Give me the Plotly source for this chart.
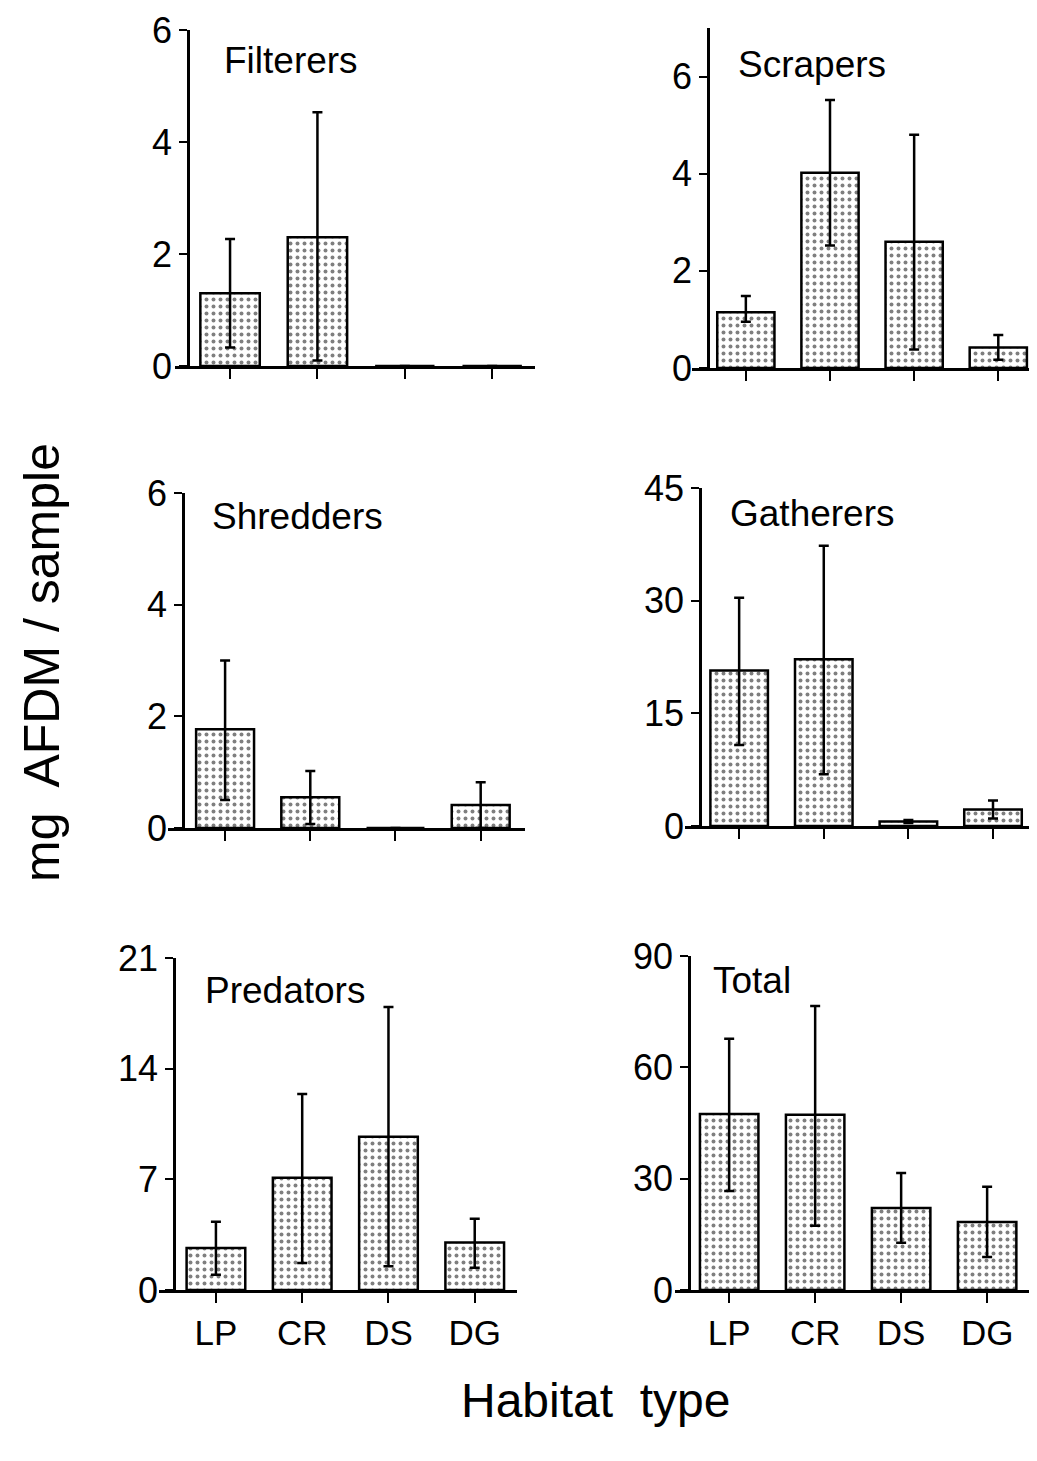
import plotly.graph_objects as go

W, H = 1037, 1461
OFF = 8  # the page body adds an 8px margin around the figure

habitats = ["LP", "CR", "DS", "DG"]

filterers = [1.3, 2.3, 0.0, 0.0]
filterers_plus = [0.97, 2.23, 0.0, 0.0]
filterers_minus = [0.97, 2.2, 0.0, 0.0]

scrapers = [1.15, 4.02, 2.6, 0.42]
scrapers_plus = [0.33, 1.5, 2.2, 0.26]
scrapers_minus = [0.2, 1.5, 2.22, 0.25]

shredders = [1.77, 0.55, 0.0, 0.41]
shredders_plus = [1.23, 0.47, 0.0, 0.41]
shredders_minus = [1.27, 0.48, 0.0, 0.41]

gatherers = [20.7, 22.2, 0.6, 2.2]
gatherers_plus = [9.7, 15.1, 0.2, 1.2]
gatherers_minus = [9.9, 15.3, 0.2, 1.2]

predators = [2.66, 7.1, 9.7, 3.0]
predators_plus = [1.65, 5.3, 8.2, 1.5]
predators_minus = [1.7, 5.4, 8.2, 1.6]

total = [47.4, 47.2, 22.1, 18.3]
total_plus = [20.3, 29.3, 9.4, 9.5]
total_minus = [20.7, 29.9, 9.4, 9.4]

panel_titles = ["Filterers", "Scrapers", "Shredders", "Gatherers", "Predators", "Total"]
panel_data = [
    (filterers, filterers_plus, filterers_minus),
    (scrapers, scrapers_plus, scrapers_minus),
    (shredders, shredders_plus, shredders_minus),
    (gatherers, gatherers_plus, gatherers_minus),
    (predators, predators_plus, predators_minus),
    (total, total_plus, total_minus),
]
y_max = [6, 7, 6, 45, 21, 90]
y_ticks = [[0, 2, 4, 6], [0, 2, 4, 6], [0, 2, 4, 6], [0, 15, 30, 45], [0, 7, 14, 21], [0, 30, 60, 90]]

# layout geometry (screen pixels): x-domain, y-axis position, y of zero, y of max, x range, title position
geom = [
    dict(x0=175, x1=535, yax=188, yb=366, yt=30, xr=[-0.63, 3.49], tx=222, ty=60),
    dict(x0=692, x1=1037, yax=708, yb=368, yt=28, xr=[-0.64, 3.46], tx=736, ty=65),
    dict(x0=168, x1=525, yax=183, yb=828, yt=493, xr=[-0.67, 3.52], tx=210, ty=517),
    dict(x0=685, x1=1037, yax=700, yb=826, yt=488, xr=[-0.64, 3.52], tx=728, ty=513),
    dict(x0=159, x1=517, yax=174, yb=1290, yt=958, xr=[-0.66, 3.49], tx=203, ty=990),
    dict(x0=675, x1=1037, yax=689, yb=1290, yt=956, xr=[-0.63, 3.58], tx=711, ty=980),
]


def px(x):
    return (x - OFF) / W


def py(y):
    return 1 - (y - OFF) / H


FONT = "Liberation Sans, Arial, Helvetica, sans-serif"

fig = go.Figure()
layout = dict(
    width=W, height=H, autosize=False,
    margin=dict(l=0, r=0, t=0, b=0, pad=0, autoexpand=False),
    paper_bgcolor="white", plot_bgcolor="white",
    showlegend=False,
    font=dict(family=FONT, color="black"),
    annotations=[],
)

for i, ((vals, plus, minus), g) in enumerate(zip(panel_data, geom)):
    n = i + 1
    xa = "x" if n == 1 else f"x{n}"
    ya = "y" if n == 1 else f"y{n}"
    fig.add_trace(go.Bar(
        x=habitats, y=vals, xaxis=xa, yaxis=ya, width=0.68,
        marker=dict(color="white", line=dict(color="black", width=2.5),
                    pattern=dict(shape=".", fgcolor="black", bgcolor="white",
                                 size=7, solidity=0.25)),
        error_y=dict(type="data", symmetric=False, array=plus, arrayminus=minus,
                     color="black", thickness=2.5, width=5),
    ))
    bottom_row = n >= 5
    layout[f"xaxis{n}"] = dict(
        domain=[px(g["x0"]), min(1.0, px(g["x1"]))], anchor=ya, range=g["xr"],
        type="category", showline=True, linecolor="black", linewidth=2.5,
        ticks="outside", ticklen=10, tickwidth=2, tickcolor="black",
        showgrid=False, zeroline=False, fixedrange=True, automargin=False,
        showticklabels=bottom_row,
        tickfont=dict(family=FONT, size=35, color="black"),
    )
    layout[f"yaxis{n}"] = dict(
        domain=[py(g["yb"]), py(g["yt"])], anchor="free",
        position=px(g["yax"]), range=[0, y_max[i]],
        tickvals=y_ticks[i], showline=True, linecolor="black", linewidth=2.5,
        ticks="outside", ticklen=8, tickwidth=2, tickcolor="black",
        showgrid=False, zeroline=False, fixedrange=True, automargin=False,
        tickfont=dict(family=FONT, size=36, color="black"),
    )
    layout["annotations"].append(dict(
        text=panel_titles[i], xref="paper", yref="paper",
        x=px(g["tx"]), y=py(g["ty"]), xanchor="left", yanchor="middle",
        showarrow=False, font=dict(family=FONT, size=37, color="black"),
    ))

layout["annotations"].append(dict(
    text="mg  AFDM / sample", xref="paper", yref="paper",
    x=px(42), y=py(663), xanchor="center", yanchor="middle", textangle=-90,
    showarrow=False, font=dict(family=FONT, size=50, color="black"),
))
layout["annotations"].append(dict(
    text="Habitat  type", xref="paper", yref="paper",
    x=px(595), y=py(1400), xanchor="center", yanchor="middle",
    showarrow=False, font=dict(family=FONT, size=48, color="black"),
))

fig.update_layout(**layout)
fig.write_html("out.html")
